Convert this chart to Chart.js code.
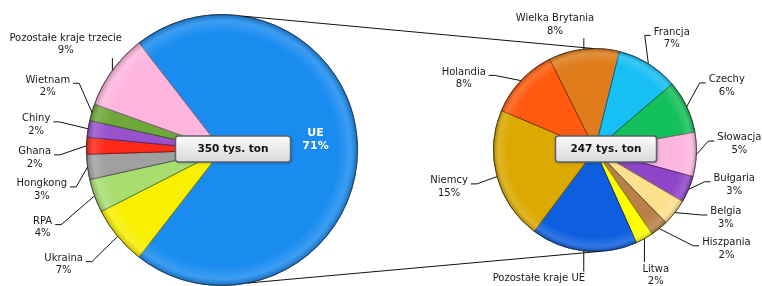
<!DOCTYPE html>
<html>
<head>
<meta charset="utf-8">
<script src="https://cdn.jsdelivr.net/npm/chart.js@4.4.1/dist/chart.umd.min.js"></script>
<style>
  html, body { margin: 0; padding: 0; background: #fff; }
  #wrap { position: relative; width: 762px; height: 286px; background: #fff; }
  #wrap canvas { position: absolute; left: 0; top: 0; }
</style>
</head>
<body>
<div id="wrap">
  <canvas id="pieLeft" width="762" height="286"></canvas>
  <canvas id="pieRight" width="762" height="286"></canvas>
</div>
<script>
// left pie - all exports (% of total)
const leftLabels = ['UE', 'Ukraina', 'RPA', 'Hongkong', 'Ghana', 'Chiny', 'Wietnam', 'Pozostałe kraje trzecie'];
const leftValues = [71, 7, 4, 3, 2, 2, 2, 9];
const leftColors = ['#1a8cf0', '#f8f000', '#a8de70', '#a0a0a0', '#ff2a1a', '#9a52cc', '#6fa83a', '#ffb6de'];
const leftTotal = 350;

// right pie - split of UE (% of total)
const rightLabels = ['Wielka Brytania', 'Francja', 'Czechy', 'Słowacja', 'Bułgaria', 'Belgia', 'Hiszpania', 'Litwa', 'Pozostałe kraje UE', 'Niemcy', 'Holandia'];
const rightValues = [8, 7, 6, 5, 3, 3, 2, 2, 12, 15, 8];
const rightColors = ['#df7d1c', '#18bff5', '#14c05a', '#ffb6de', '#8f45c8', '#fde08c', '#b8814a', '#ffff00', '#0e5fe0', '#dba900', '#ff5a0f'];
const rightTotal = 247;
const noPercent = ['Pozostałe kraje UE'];

// label placement: [angle shift in degrees, distance past the rim]
const leftLabelPos = [null, [3.7, 60], [-3.6, 60], [-5.3, 49], [-4.2, 52], [-1.3, 52], [3.9, 50], [-2, 53]];
const rightLabelPos = [[-11.4, 30], [2.8, 34], [-0.6, 45], [-4.9, 43], [-8.8, 42], [-10.6, 46], [-13.8, 63], [3.3, 38], [17.2, 39], [1, 49], [-14.5, 48]];

const FONT = '"DejaVu Sans", Verdana, sans-serif';

function darker(hex, f) {
    const n = parseInt(hex.slice(1), 16);
    const r = Math.round(((n >> 16) & 255) * f);
    const g = Math.round(((n >> 8) & 255) * f);
    const b = Math.round((n & 255) * f);
    return 'rgb(' + r + ',' + g + ',' + b + ')';
}

// soft rim shading to mimic the bevel
const bevel = {
    id: 'bevel',
    afterDatasetsDraw(chart) {
        const arc = chart.getDatasetMeta(0).data[0];
        const ctx = chart.ctx;
        const R = arc.outerRadius;
        ctx.save();
        const g = ctx.createRadialGradient(arc.x, arc.y, 0, arc.x, arc.y, R);
        g.addColorStop(0, 'rgba(255,255,255,0)');
        g.addColorStop(0.86, 'rgba(255,255,255,0)');
        g.addColorStop(0.95, 'rgba(255,255,255,0.15)');
        g.addColorStop(1, 'rgba(0,0,0,0.22)');
        ctx.fillStyle = g;
        ctx.beginPath();
        ctx.arc(arc.x, arc.y, R, 0, Math.PI * 2);
        ctx.fill();
        ctx.strokeStyle = 'rgba(60,60,60,0.6)';
        ctx.lineWidth = 1;
        ctx.stroke();
        ctx.restore();
    }
};

// outside labels with leader lines
const sliceLabels = {
    id: 'sliceLabels',
    afterDatasetsDraw(chart, args, opts) {
        const ctx = chart.ctx;
        const arcs = chart.getDatasetMeta(0).data;
        const names = chart.data.labels;
        const vals = chart.data.datasets[0].data;
        ctx.save();
        ctx.textAlign = 'center';
        ctx.textBaseline = 'middle';
        arcs.forEach((arc, i) => {
            const mid = (arc.startAngle + arc.endAngle) / 2;
            const R = arc.outerRadius;
            const lines = [names[i]];
            if (!noPercent.includes(names[i])) lines.push(Math.round(vals[i]) + '%');

            if (opts.inside.includes(i)) {
                // label inside the slice
                const cx = arc.x + R * 0.69 * Math.cos(mid);
                const cy = arc.y + R * 0.69 * Math.sin(mid) - 10;
                ctx.font = 'bold 11px ' + FONT;
                ctx.fillStyle = '#fff';
                lines.forEach((t, k) => ctx.fillText(t, cx, cy - (lines.length - 1) * 6.5 + k * 13));
                return;
            }

            const pos = opts.place[i];
            const a = mid + pos[0] * Math.PI / 180;
            const cx = arc.x + (R + pos[1]) * Math.cos(a);
            const cy = arc.y + (R + pos[1]) * Math.sin(a);
            ctx.font = '10px ' + FONT;
            ctx.fillStyle = '#1a1a1a';
            let w = 0;
            lines.forEach(t => { w = Math.max(w, ctx.measureText(t).width); });
            const h = lines.length * 12.5;
            lines.forEach((t, k) => ctx.fillText(t, cx, cy - (lines.length - 1) * 6.25 + k * 12.5));

            // leader line
            const px = arc.x + R * Math.cos(mid);
            const py = arc.y + R * Math.sin(mid);
            const left = cx - w / 2, right = cx + w / 2;
            const top = cy - h / 2, bottom = cy + h / 2;
            const ay = lines.length > 1 ? cy - 3 : cy;
            let ax, ay2, ex, ey;
            if (px < left - 2) {
                ax = left - 3; ay2 = ay; ex = ax - 6; ey = ay;
            } else if (px > right + 2) {
                ax = right + 3; ay2 = ay; ex = ax + 6; ey = ay;
            } else {
                ax = px; ay2 = py < top ? top - 1 : bottom + 1; ex = ax; ey = ay2;
            }
            ctx.strokeStyle = '#111';
            ctx.lineWidth = 1;
            ctx.beginPath();
            ctx.moveTo(ax, ay2);
            ctx.lineTo(ex, ey);
            ctx.lineTo(px, py);
            ctx.stroke();
        });
        ctx.restore();
    }
};

// total box in the middle of each pie
const totalBox = {
    id: 'totalBox',
    afterDraw(chart, args, opts) {
        const arc = chart.getDatasetMeta(0).data[0];
        const ctx = chart.ctx;
        const text = opts.total + ' tys. ton';
        ctx.save();
        ctx.font = 'bold 10.5px ' + FONT;
        const tw = ctx.measureText(text).width;
        const bw = tw + opts.padX * 2, bh = 26;
        const bx = arc.x + 11 - bw / 2, by = arc.y - 1 - bh / 2;
        const g = ctx.createLinearGradient(0, by, 0, by + bh);
        g.addColorStop(0, '#fbfbfb');
        g.addColorStop(1, '#d9d9d9');
        ctx.shadowColor = 'rgba(0,0,0,0.35)';
        ctx.shadowBlur = 3;
        ctx.shadowOffsetX = 1;
        ctx.shadowOffsetY = 1;
        ctx.fillStyle = g;
        ctx.beginPath();
        ctx.roundRect(bx, by, bw, bh, 3);
        ctx.fill();
        ctx.shadowColor = 'transparent';
        ctx.strokeStyle = '#56636e';
        ctx.lineWidth = 1.5;
        ctx.stroke();
        ctx.fillStyle = '#111';
        ctx.textAlign = 'center';
        ctx.textBaseline = 'middle';
        ctx.fillText(text, bx + bw / 2, by + bh / 2 + 0.5);
        ctx.restore();
    }
};

function pieOptions(rotation, padding, labelOpts, total, padX) {
    return {
        responsive: false,
        animation: false,
        events: [],
        rotation: rotation,
        layout: { padding: padding },
        plugins: {
            legend: { display: false },
            tooltip: { enabled: false },
            sliceLabels: labelOpts,
            totalBox: { total: total, padX: padX }
        }
    };
}

const leftSum = leftValues.reduce((a, b) => a + b, 0);
const leftChart = new Chart(document.getElementById('pieLeft'), {
    type: 'pie',
    data: {
        labels: leftLabels,
        datasets: [{
            data: leftValues,
            backgroundColor: leftColors,
            borderColor: leftColors.map(c => darker(c, 0.55)),
            borderWidth: 1
        }]
    },
    options: pieOptions(90 - leftValues[0] / leftSum * 180,
        { left: 86, top: 14, right: 404, bottom: 0 },
        { inside: [0], place: leftLabelPos }, leftTotal, 22),
    plugins: [bevel, sliceLabels, totalBox]
});

// lines joining the two pies
const connectors = {
    id: 'connectors',
    afterDraw(chart) {
        const a = leftChart.getDatasetMeta(0).data[0];
        const b = chart.getDatasetMeta(0).data[0];
        const pt = (arc, deg) => {
            const r = (deg - 90) * Math.PI / 180;
            return [arc.x + arc.outerRadius * Math.cos(r), arc.y + arc.outerRadius * Math.sin(r)];
        };
        const ctx = chart.ctx;
        ctx.save();
        ctx.strokeStyle = '#111';
        ctx.lineWidth = 1;
        [[9, -1], [169, 177]].forEach(([d1, d2]) => {
            const p = pt(a, d1), q = pt(b, d2);
            ctx.beginPath();
            ctx.moveTo(p[0], p[1]);
            ctx.lineTo(q[0], q[1]);
            ctx.stroke();
        });
        ctx.restore();
    }
};

new Chart(document.getElementById('pieRight'), {
    type: 'pie',
    data: {
        labels: rightLabels,
        datasets: [{
            data: rightValues,
            backgroundColor: rightColors,
            borderColor: rightColors.map(c => darker(c, 0.55)),
            borderWidth: 1
        }]
    },
    options: pieOptions(-26.6,
        { left: 493, top: 48, right: 65, bottom: 34 },
        { inside: [], place: rightLabelPos }, rightTotal, 15),
    plugins: [bevel, sliceLabels, totalBox, connectors]
});
</script>
</body>
</html>
